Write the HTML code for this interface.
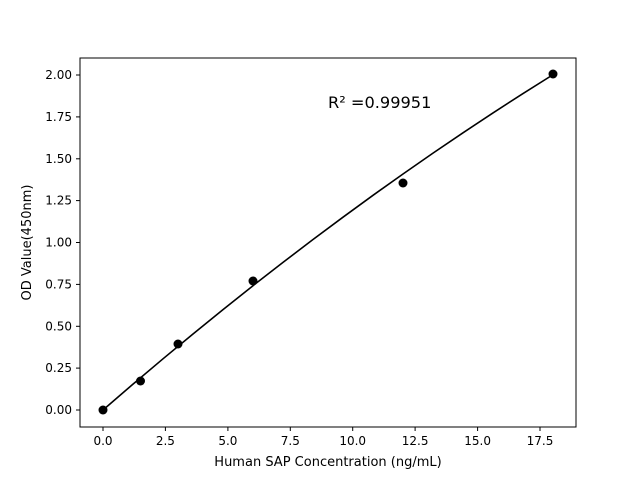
<!DOCTYPE html>
<html><head><style>body{margin:0;background:#fff}svg{display:block}text{font-family:"DejaVu Sans","Liberation Sans",sans-serif;fill:#000}</style></head>
<body>
<svg width="640" height="480" xmlns="http://www.w3.org/2000/svg">
<rect x="80" y="58" width="496" height="369" fill="none" stroke="#000" stroke-width="1"/>
<g stroke="#000" stroke-width="1">
<line x1="103" y1="427" x2="103" y2="431"/><line x1="165.4" y1="427" x2="165.4" y2="431"/><line x1="227.9" y1="427" x2="227.9" y2="431"/><line x1="290.3" y1="427" x2="290.3" y2="431"/><line x1="352.7" y1="427" x2="352.7" y2="431"/><line x1="415.1" y1="427" x2="415.1" y2="431"/><line x1="477.6" y1="427" x2="477.6" y2="431"/><line x1="540" y1="427" x2="540" y2="431"/>
<line x1="76" y1="410" x2="80" y2="410"/><line x1="76" y1="368.1" x2="80" y2="368.1"/><line x1="76" y1="326.3" x2="80" y2="326.3"/><line x1="76" y1="284.4" x2="80" y2="284.4"/><line x1="76" y1="242.5" x2="80" y2="242.5"/><line x1="76" y1="200.6" x2="80" y2="200.6"/><line x1="76" y1="158.8" x2="80" y2="158.8"/><line x1="76" y1="116.9" x2="80" y2="116.9"/><line x1="76" y1="75" x2="80" y2="75"/>
</g>
<g font-size="12" text-anchor="middle">
<text x="103" y="445">0.0</text><text x="165.4" y="445">2.5</text><text x="227.9" y="445">5.0</text><text x="290.3" y="445">7.5</text><text x="352.7" y="445">10.0</text><text x="415.1" y="445">12.5</text><text x="477.6" y="445">15.0</text><text x="540" y="445">17.5</text>
</g>
<g font-size="12" text-anchor="end">
<text x="72" y="414">0.00</text><text x="72" y="372.1">0.25</text><text x="72" y="330.3">0.50</text><text x="72" y="288.4">0.75</text><text x="72" y="246.5">1.00</text><text x="72" y="204.6">1.25</text><text x="72" y="162.8">1.50</text><text x="72" y="120.9">1.75</text><text x="72" y="79">2.00</text>
</g>
<text x="328" y="466" font-size="13" text-anchor="middle">Human SAP Concentration (ng/mL)</text>
<text transform="translate(31,242.5) rotate(-90)" font-size="13" text-anchor="middle">OD Value(450nm)</text>
<text x="328" y="108" font-size="16.2">R² =0.99951</text>
<polyline fill="none" stroke="#000" stroke-width="1.6" points="103,410 133,384.15 163,358.8 193,333.95 223,309.6 253,285.7 283,262.4 313,239.5 343,217.2 373,195.3 403,174 433,153.1 463,132.8 493,112.9 523,93.55 552.5,75"/>
<g fill="#000">
<circle cx="103" cy="410" r="4.5"/><circle cx="140.5" cy="381" r="4.5"/><circle cx="178" cy="344" r="4.5"/><circle cx="253" cy="281" r="4.5"/><circle cx="403" cy="183" r="4.5"/><circle cx="553" cy="74" r="4.5"/>
</g>
</svg>
</body></html>
